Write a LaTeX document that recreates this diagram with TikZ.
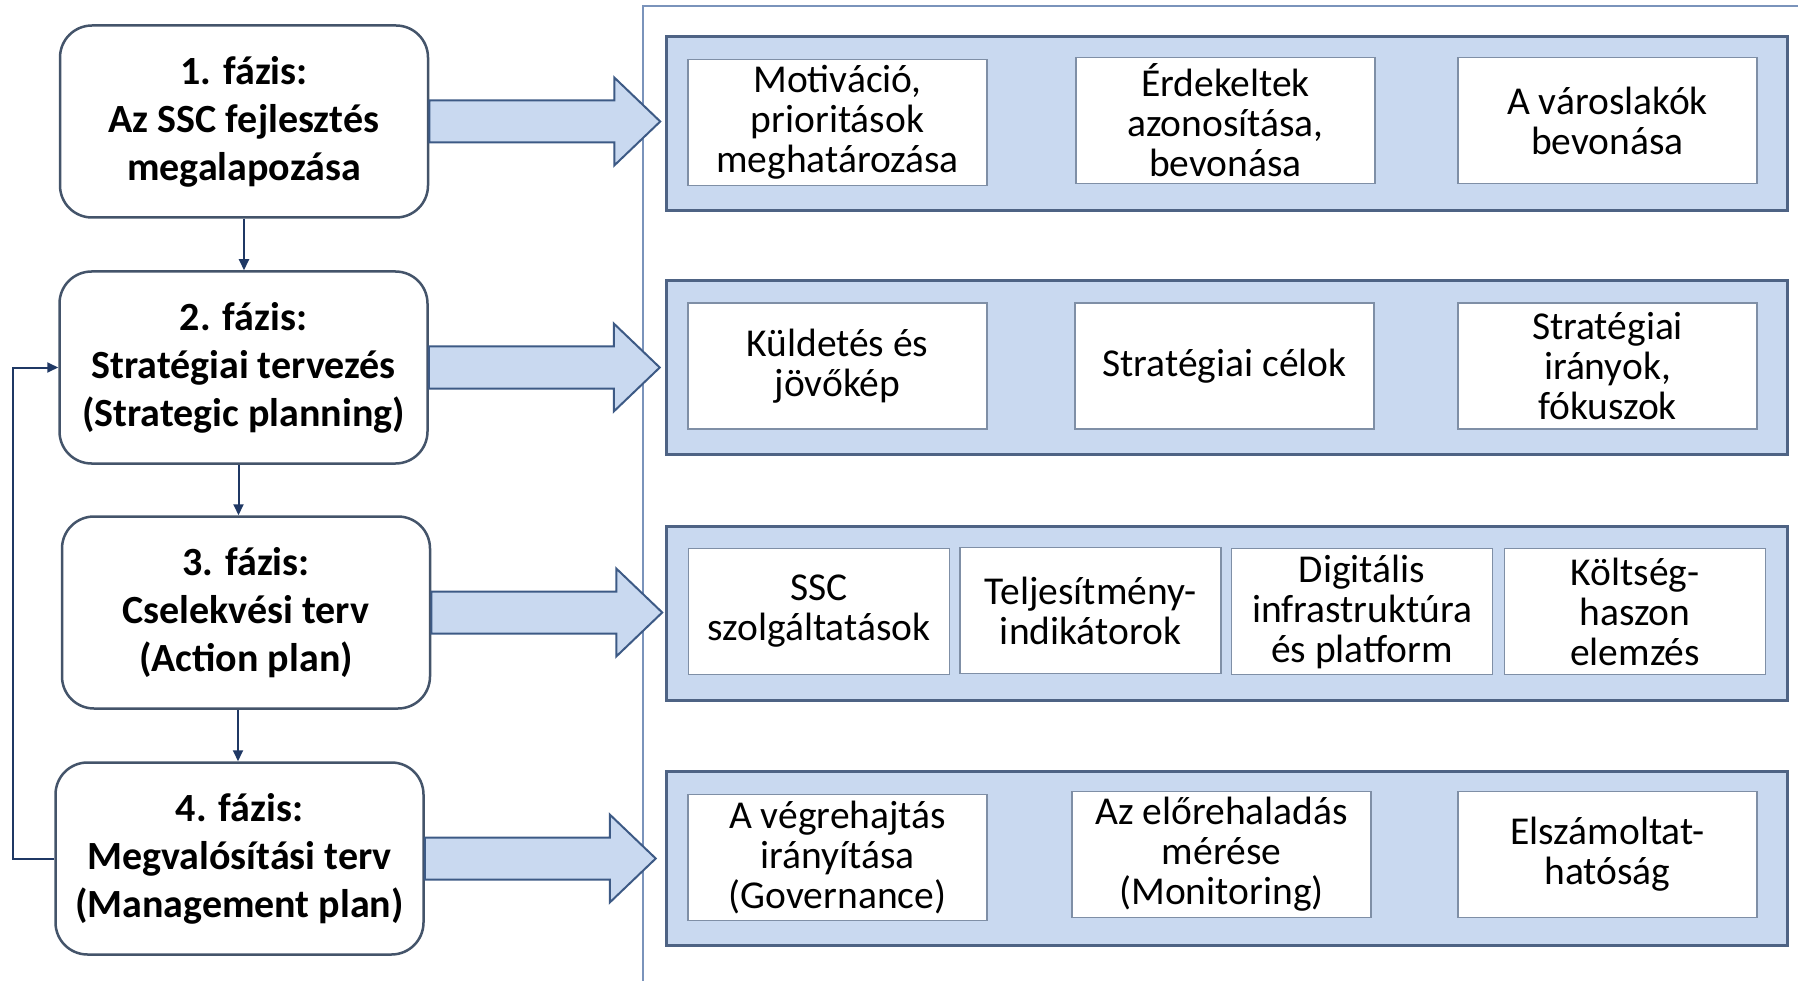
\documentclass[tikz,border=0pt]{standalone}
\usepackage{fontspec}
\setmainfont{Carlito}
\usepackage{tikz}
\usetikzlibrary{arrows.meta}
\definecolor{panelfill}{HTML}{C9D9F0}
\definecolor{paneldraw}{HTML}{4E6384}
\definecolor{phasedraw}{HTML}{44546A}
\definecolor{arrowdraw}{HTML}{3D5A85}
\definecolor{framedraw}{HTML}{7A93BB}
\definecolor{itemdraw}{HTML}{7F8FA6}
\definecolor{navy}{HTML}{1F3864}

\begin{document}
\begin{tikzpicture}[x=1pt,y=-1pt,
  phase/.style={draw=phasedraw, line width=2.5pt, rounded corners=32pt, fill=white,
    minimum width=368pt, minimum height=192pt, align=center,
    font=\fontsize{40}{48}\selectfont\bfseries},
  panel/.style={draw=paneldraw, line width=3pt, fill=panelfill,
    minimum width=1121pt, minimum height=174pt},
  item/.style={draw=itemdraw, line width=1.5pt, fill=white,
    minimum width=299pt, minimum height=126pt, align=center,
    font=\fontsize{39.5}{40}\selectfont},
  smallitem/.style={item, minimum width=261pt},
  fatarr/.style={draw=arrowdraw, line width=2pt, fill=panelfill, line join=miter},
  thin/.style={draw=navy, line width=2pt, -{Triangle[length=11pt,width=10pt]}}]
\useasboundingbox (0,0) rectangle (1798,981);

% frame round the right side
\draw[framedraw, line width=2pt] (643,981) |- (1798,6);

% phases
\node[phase] (ph1) at (244,121.5) {1. fázis:\\Az SSC fejlesztés\\megalapozása};
\node[phase] (ph2) at (243.5,367.5) {2. fázis:\\Stratégiai tervezés\\(Strategic planning)};
\node[phase] (ph3) at (246,612.5) {3. fázis:\\Cselekvési terv\\(Action plan)};
\node[phase] (ph4) at (239.5,858.5) {4. fázis:\\Megvalósítási terv\\(Management plan)};

% panels
\node[panel] (pan1) at (1226.5,124) {};
\node[panel] (pan2) at (1226.5,367.5) {};
\node[panel] (pan3) at (1226.5,613) {};
\node[panel] (pan4) at (1226.5,858) {};

% items
\node[item] (m1) at (837.5,122.5) {Motiváció,\\prioritások\\meghatározása};
\node[item] (m2) at (1225.5,120.5) {Érdekeltek\\azonosítása,\\bevonása};
\node[item] (m3) at (1607.5,120.5) {A városlakók\\bevonása};
\node[item] (s1) at (837.5,366) {Küldetés és\\jövőkép};
\node[item] (s2) at (1224.5,366) {Stratégiai célok};
\node[item] (s3) at (1607.5,366) {Stratégiai\\irányok,\\fókuszok};
\node[smallitem] (a1) at (819,611.5) {SSC\\szolgáltatások};
\node[smallitem] (a2) at (1090.5,610.5) {Teljesítmény-\\indikátorok};
\node[smallitem] (a3) at (1362,611.5) {Digitális\\infrastruktúra\\és platform};
\node[smallitem] (a4) at (1635,611.5) {Költség-\\haszon\\elemzés};
\node[item] (g1) at (837.5,857.5) {A végrehajtás\\irányítása\\(Governance)};
\node[item] (g2) at (1221.5,854.5) {Az előrehaladás\\mérése\\(Monitoring)};
\node[item] (g3) at (1607.5,854.5) {Elszámoltat-\\hatóság};

% fat arrows phase -> panel
\foreach \p in {1,2,3,4}
  \draw[fatarr] (ph\p.east) ++(0,-21) -- ++(185,0) -- ++(0,-23) -- ++(46,44)
    -- ++(-46,44) -- ++(0,-23) -- ++(-185,0) -- cycle;

% phase order
\draw[thin] (ph1.south) -- (ph1.south |- ph2.north);
\draw[thin] ([xshift=-5pt]ph2.south) -- ([xshift=-5pt]ph2.south |- ph3.north);
\draw[thin] ([xshift=-8pt]ph3.south) -- ([xshift=-8pt]ph3.south |- ph4.north);
\draw[thin] (ph4.west) -- ++(-41,0) |- (ph2.west);
\end{tikzpicture}
\end{document}
